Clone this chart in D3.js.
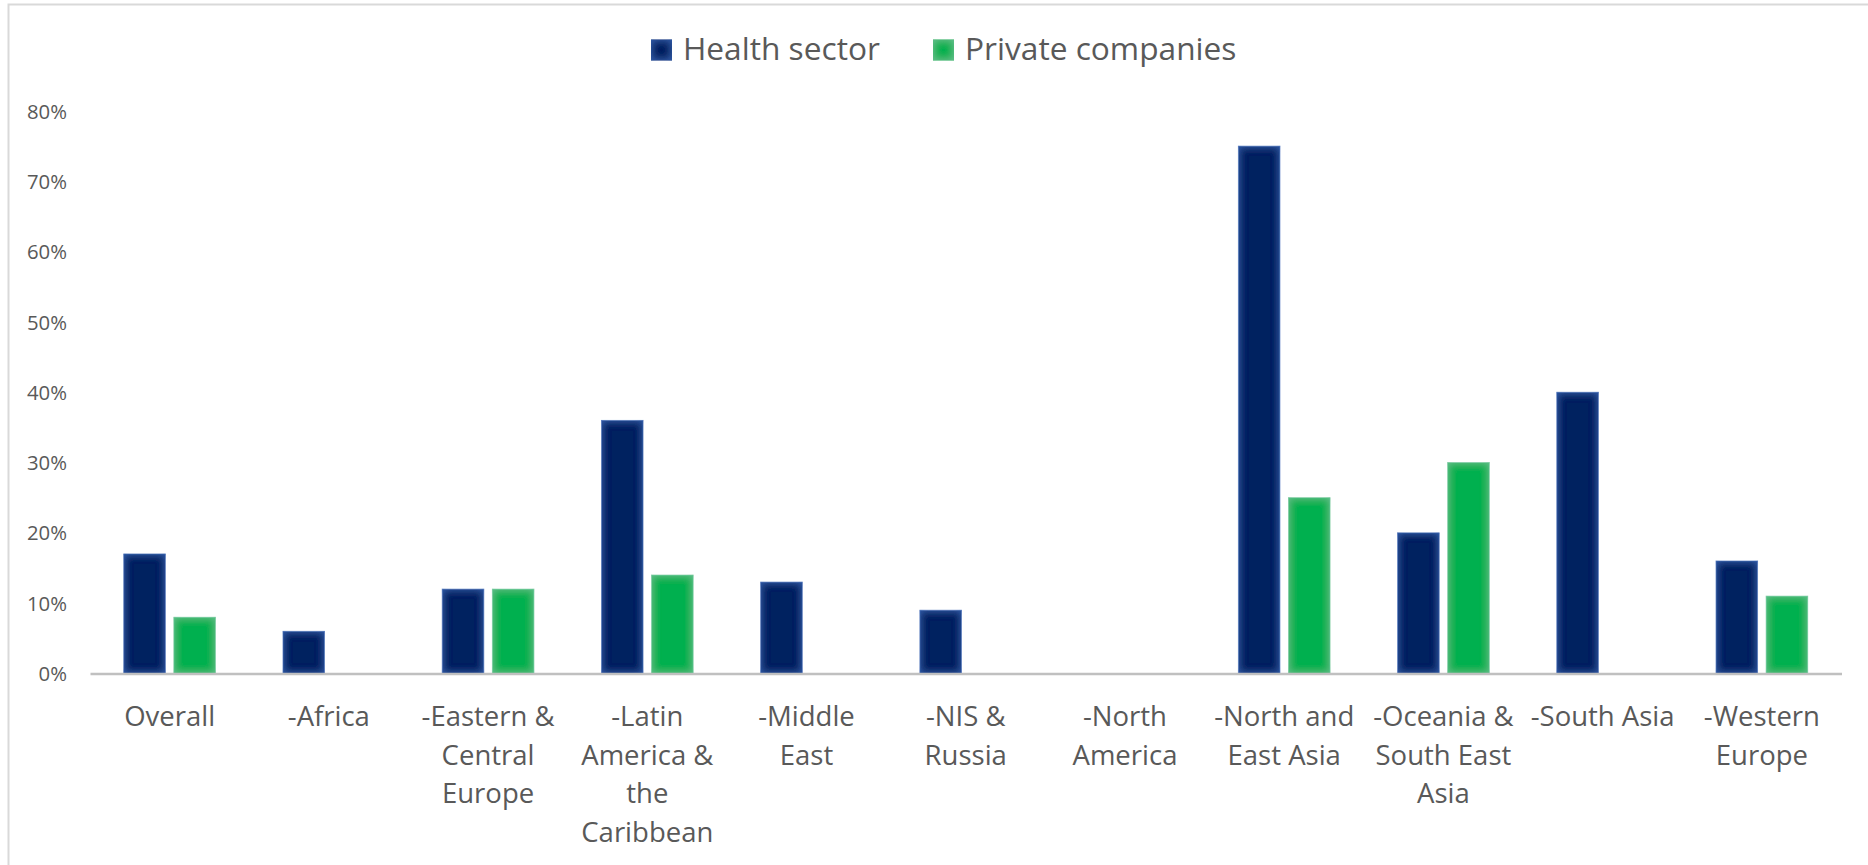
<!DOCTYPE html>
<html>
<head>
<meta charset="utf-8">
<script src="https://cdn.jsdelivr.net/npm/d3@7"></script>
<style>
  html, body { margin: 0; padding: 0; background: #ffffff; }
  svg { display: block; }
  text { font-family: "Open Sans", "Noto Sans", sans-serif; fill: #595959; }
</style>
</head>
<body>
<svg id="chart" width="1868" height="865"></svg>
<script>
// Regions (line breaks mark where each axis label wraps)
const categories = [
  "Overall",
  "-Africa",
  "-Eastern &\nCentral\nEurope",
  "-Latin\nAmerica &\nthe\nCaribbean",
  "-Middle\nEast",
  "-NIS &\nRussia",
  "-North\nAmerica",
  "-North and\nEast Asia",
  "-Oceania &\nSouth East\nAsia",
  "-South Asia",
  "-Western\nEurope"
];
const seriesNames = ["Health sector", "Private companies"];
const healthSector     = [0.17, 0.06, 0.12, 0.36, 0.13, 0.09, 0, 0.75, 0.20, 0.40, 0.16];
const privateCompanies = [0.08, 0.00, 0.12, 0.14, 0.00, 0.00, 0, 0.25, 0.30, 0.00, 0.11];
const yTicks = [0, 0.1, 0.2, 0.3, 0.4, 0.5, 0.6, 0.7, 0.8];

const seriesValues = [healthSector, privateCompanies];
const seriesStyle = [
  { fill: "#002060", glow: "#3563b4", edge: "#8aa5d6", id: "glowNavy" },
  { fill: "#00b050", glow: "#6cc296", edge: "#a8dcbd", id: "glowGreen" }
];

const svg = d3.select("#chart");
const W = 1868, H = 865;
svg.append("rect").attr("width", W).attr("height", H).attr("fill", "#ffffff");

// Soft inner glow on bar edges
const defs = svg.append("defs");
seriesStyle.forEach(s => {
  const f = defs.append("filter").attr("id", s.id)
    .attr("x", "-50%").attr("y", "-50%").attr("width", "200%").attr("height", "200%");
  f.append("feFlood").attr("flood-color", s.glow).attr("result", "c");
  const ct = f.append("feComponentTransfer").attr("in", "SourceAlpha").attr("result", "inv");
  ct.append("feFuncA").attr("type", "table").attr("tableValues", "1 0");
  f.append("feGaussianBlur").attr("in", "inv").attr("stdDeviation", 4).attr("result", "blur");
  f.append("feComposite").attr("in", "c").attr("in2", "blur").attr("operator", "in").attr("result", "glow");
  f.append("feComposite").attr("in", "glow").attr("in2", "SourceAlpha").attr("operator", "in").attr("result", "glowIn");
  const m = f.append("feMerge");
  m.append("feMergeNode").attr("in", "SourceGraphic");
  m.append("feMergeNode").attr("in", "glowIn");
});

// Chart frame (left and top edges)
svg.append("path")
  .attr("d", `M8.5,${H} V4.5 H${W}`)
  .attr("fill", "none").attr("stroke", "#d9d9d9").attr("stroke-width", 2);

// Scales
const plotLeft = 90, plotRight = 1841.5, yBase = 673.5, yTop = 111;
const x0 = d3.scaleBand().domain(d3.range(categories.length)).range([plotLeft, plotRight]).padding(0);
const clusterW = 91.7;
const x1 = d3.scaleBand().domain(d3.range(seriesNames.length))
  .range([-clusterW / 2, clusterW / 2]).paddingInner(0.17).paddingOuter(0);
const y = d3.scaleLinear().domain([0, 0.8]).range([yBase, yTop]);

// Helper: choose a font size so that a sample string spans a target width
function fitSize(sample, targetWidth, base) {
  const t = svg.append("text").attr("font-size", base).text(sample);
  const w = t.node().getComputedTextLength();
  t.remove();
  return base * targetWidth / w;
}
const tickSize = fitSize("80%", 40, 20);
const catSize = fitSize("Overall", 91, 28);
const legendSize = fitSize("Health sector", 197, 32);

// Y axis labels
const yAxis = d3.axisLeft(y).tickValues(yTicks).tickFormat(d3.format(".0%")).tickSize(0).tickPadding(0);
const gy = svg.append("g").attr("transform", "translate(67,0)").call(yAxis);
gy.select(".domain").remove();
gy.attr("font-family", null);
gy.selectAll("text")
  .attr("font-size", tickSize)
  .attr("fill", "#595959")
  .attr("dy", "0.35em");

// Bars
seriesValues.forEach((vals, si) => {
  const st = seriesStyle[si];
  svg.append("g").selectAll("rect")
    .data(vals.map((v, i) => ({ v, i })).filter(d => d.v > 0))
    .join("rect")
    .attr("x", d => x0(d.i) + x0.bandwidth() / 2 + x1(si))
    .attr("y", d => y(d.v))
    .attr("width", x1.bandwidth())
    .attr("height", d => yBase - y(d.v))
    .attr("fill", st.fill)
    .attr("filter", `url(#${st.id})`)
    .attr("stroke", st.edge)
    .attr("stroke-width", 0.8)
    .attr("stroke-opacity", 0.8);
});

// X axis baseline and wrapped category labels
const xAxis = d3.axisBottom(x0).tickSize(0).tickPadding(0).tickFormat(() => "");
const gx = svg.append("g").attr("transform", `translate(0,${yBase})`).call(xAxis);
gx.attr("font-family", null);
gx.select(".domain").attr("stroke", "#c0c0c0").attr("stroke-width", 2.5);
gx.selectAll(".tick text").remove();
gx.selectAll(".tick").each(function(d) {
  const lines = categories[d].split("\n");
  const t = d3.select(this).append("text")
    .attr("text-anchor", "middle")
    .attr("font-size", catSize)
    .attr("fill", "#595959");
  lines.forEach((ln, k) => {
    t.append("tspan").attr("x", 0).attr("y", 52.5 + k * 38.7).text(ln);
  });
});

// Legend
const legend = svg.append("g");
const legendX = [651, 933];
seriesNames.forEach((name, si) => {
  const g = legend.append("g").attr("transform", `translate(${legendX[si]},39.5)`);
  g.append("rect").attr("width", 21).attr("height", 21)
    .attr("fill", seriesStyle[si].fill)
    .attr("filter", `url(#${seriesStyle[si].id})`);
  g.append("text").attr("x", 32).attr("y", 20.5)
    .attr("font-size", legendSize)
    .text(name);
});
</script>
</body>
</html>
